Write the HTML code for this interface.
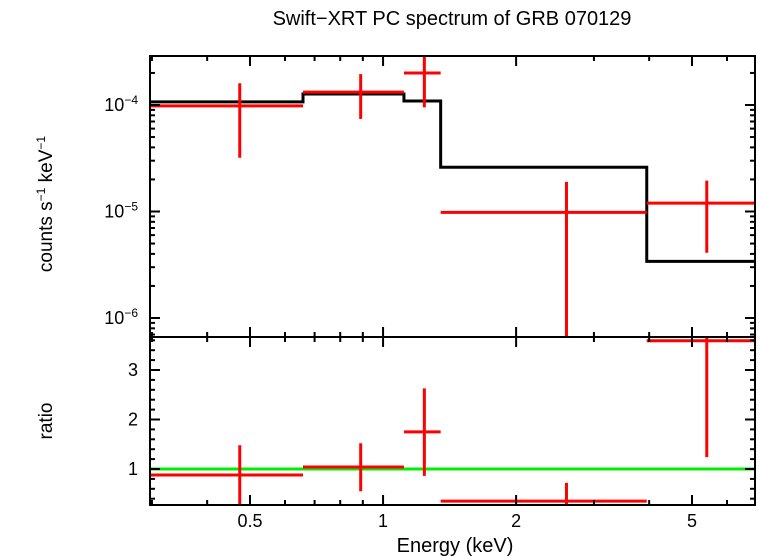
<!DOCTYPE html>
<html><head><meta charset="utf-8"><style>
body{margin:0;background:#fff}
svg{display:block;font-family:"Liberation Sans",sans-serif}
</style></head><body>
<svg id="c" width="758" height="556" viewBox="0 0 758 556"></svg>
<script>
const modelEdges=[0.297,0.659,1.115,1.35,3.95,6.94];
const modelValues=[1.07e-4,1.27e-4,1.09e-4,2.6e-5,3.4e-6];
const dataLo=[0.297,0.659,1.115,1.35,3.95];
const dataHi=[0.659,1.115,1.35,3.95,6.94];
const dataCenter=[0.474,0.89,1.24,2.6,5.4];
const dataValue=[0.98e-4,1.32e-4,2.0e-4,0.98e-5,1.2e-5];
const dataErrHi=[1.6e-4,1.95e-4,2.9e-4,1.9e-5,1.95e-5];
const dataErrLo=[3.2e-5,7.4e-5,9.5e-5,1e-7,4.1e-6];
const ratioValue=[0.88,1.04,1.75,0.35,3.59];
const ratioErrHi=[1.48,1.52,2.63,0.72,4.5];
const ratioErrLo=[0.1,0.55,0.86,0.1,1.24];
const xTickLabels=[0.5,1,2,5];
const yTickExp=[-4,-5,-6];
const ratioTickLabels=[1,2,3];

const L=150,R=755,T=56,M=337,B=505;
const xs=e=>250+442*Math.log10(e/0.5);
const ys=v=>105-106.5*(Math.log10(v)+4);
const yr=v=>469-49.5*(v-1);
const svg=document.getElementById('c');
const NS='http://www.w3.org/2000/svg';
function mk(tag,at,parent){const el=document.createElementNS(NS,tag);for(const k in at)el.setAttribute(k,at[k]);(parent||svg).appendChild(el);return el;}
function ln(x1,y1,x2,y2,col,w,name,p){const el=mk('line',{x1,y1,x2,y2,stroke:col,'stroke-width':w},p);

return el;}
function tx(x,y,s,size,anchor,name){const el=mk('text',{x,y,'font-size':size,'text-anchor':anchor||'middle',fill:'#000'});el.textContent=s;

return el;}

const defs=mk('defs',{});
const c1=mk('clipPath',{id:'ct'},defs);mk('rect',{x:L,y:T,width:R-L,height:M-T},c1);
const c2=mk('clipPath',{id:'cb'},defs);mk('rect',{x:L,y:M,width:R-L,height:B-M},c2);
const gt=mk('g',{'clip-path':'url(#ct)'});
const gb=mk('g',{'clip-path':'url(#cb)'});

let d='';
modelValues.forEach((v,i)=>{const x1=xs(modelEdges[i]),x2=xs(modelEdges[i+1]),y=ys(v);d+=(i?'L':'M')+x1+' '+y+'L'+x2+' '+y;});
const mp=mk('path',{d,fill:'none',stroke:'#000','stroke-width':3},gt);



dataValue.forEach((v,i)=>{
 ln(xs(dataLo[i]),ys(v),xs(dataHi[i]),ys(v),'#f00',3,'data-xerr-'+i,gt);
 ln(xs(dataCenter[i]),ys(dataErrHi[i]),xs(dataCenter[i]),ys(dataErrLo[i]),'#f00',3,'data-yerr-'+i,gt);
});
ln(L,yr(1),R,yr(1),'#0e0',3,'unity-line',gb);
ratioValue.forEach((v,i)=>{
 ln(xs(dataLo[i]),yr(v),xs(dataHi[i]),yr(v),'#f00',3,'ratio-xerr-'+i,gb);
 ln(xs(dataCenter[i]),yr(ratioErrHi[i]),xs(dataCenter[i]),yr(ratioErrLo[i]),'#f00',3,'ratio-yerr-'+i,gb);
});

const f1=mk('rect',{x:L,y:T,width:R-L,height:M-T,fill:'none',stroke:'#000','stroke-width':2});
const f2=mk('rect',{x:L,y:M,width:R-L,height:B-M,fill:'none',stroke:'#000','stroke-width':2});

for(let dec=-1;dec<=0;dec++)for(let m=1;m<10;m++){const e=m*Math.pow(10,dec);if(e<0.3||e>6.94)continue;
 const x=xs(e);const major=(m==1||m==2||m==5);const len=major?10:5;
 ln(x,T,x,T+len,'#000',2,'x-tick-top');ln(x,M-len,x,M+len,'#000',2,'x-tick-mid');ln(x,B,x,B-len,'#000',2,'x-tick-bottom');}
xTickLabels.forEach(v=>tx(xs(v),527,String(v),18,'middle','x-tick-label'));

for(let dec=-7;dec<=-4;dec++)for(let m=1;m<10;m++){const v=m*Math.pow(10,dec);const y=ys(v);if(y<T||y>M)continue;
 const len=m==1?10:5;ln(L,y,L+len,y,'#000',2,'y-tick-left');ln(R,y,R-len,y,'#000',2,'y-tick-right');}
yTickExp.forEach(e=>{const el=tx(138,ys(Math.pow(10,e))+6,'10',18,'end','y-tick-label');const s=mk('tspan',{dy:-7,'font-size':12},el);s.textContent=String(e).replace('-','\u2212');});

for(let k=2;k<=18;k++){const v=k*0.2;const y=yr(v);if(y<M||y>B)continue;const len=(k%5==0)?10:5;
 ln(L,y,L+len,y,'#000',2,'ratio-tick-left');ln(R,y,R-len,y,'#000',2,'ratio-tick-right');}
ratioTickLabels.forEach(v=>tx(138,yr(v)+6,String(v),18,'end','ratio-tick-label'));

tx(452,25,'Swift\u2212XRT PC spectrum of GRB 070129',20,'middle','chart-title');
tx(455,552,'Energy (keV)',20,'middle','x-axis-title');
const yt=tx(0,0,'',19,'middle','y-axis-title');yt.setAttribute('transform','translate(52,204) rotate(-90)');
yt.innerHTML='counts s<tspan dy="-7" font-size="12">\u22121</tspan><tspan dy="7"> keV</tspan><tspan dy="-7" font-size="12">\u22121</tspan>';
const rt=tx(0,0,'ratio',19,'middle','ratio-axis-title');rt.setAttribute('transform','translate(52,421) rotate(-90)');
</script>
</body></html>
